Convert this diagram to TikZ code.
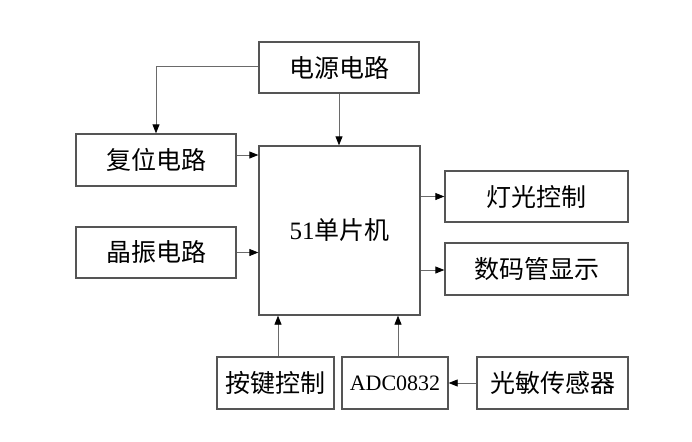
\documentclass[tikz,border=0pt]{standalone}
\usepackage{fontspec}
\setmainfont{Liberation Serif}
\newfontfamily\cjk{Noto Sans CJK SC}
\usetikzlibrary{arrows.meta}
\definecolor{boxline}{HTML}{555555}
\definecolor{conline}{HTML}{6A6A6A}
\begin{document}
\begin{tikzpicture}[x=1pt,y=-1pt,
  blk/.style={draw=boxline,line width=1.3pt,inner sep=0pt,anchor=center,
    font=\cjk\fontsize{25}{29}\selectfont},
  con/.style={draw=conline,line width=0.8pt,-{Triangle[length=9pt,width=7pt,color=black]}}]
\useasboundingbox (0,0) rectangle (692,441);
\node[blk,minimum width=160pt,minimum height=51pt] (power) at (339,67.5) {电源电路};
\node[blk,minimum width=160pt,minimum height=52pt] (reset) at (156,160) {复位电路};
\node[blk,minimum width=160pt,minimum height=51pt] (xtal) at (156,252.5) {晶振电路};
\node[blk,minimum width=161pt,minimum height=169pt] (mcu) at (339.5,230.5) {{\rmfamily\fontsize{25}{29}\selectfont 51}单片机};
\node[blk,minimum width=183pt,minimum height=51pt] (light) at (536.5,196.5) {灯光控制};
\node[blk,minimum width=183pt,minimum height=52pt] (disp) at (536.5,269) {数码管显示};
\node[blk,minimum width=117pt,minimum height=52pt] (keys) at (275.5,383) {按键控制};
\node[blk,minimum width=106pt,minimum height=52pt,font=\rmfamily\fontsize{22}{26}\selectfont] (adc) at (395,383) {ADC0832};
\node[blk,minimum width=151pt,minimum height=52pt] (sens) at (552.5,383) {光敏传感器};
\coordinate (pw) at ([yshift=1pt]power.west);
\draw[con] (pw) -| (reset.north);
\draw[con] (power.south) -- (power.south |- mcu.north);
\draw[con] ([yshift=5pt]reset.east) -- ([yshift=5pt]reset.east -| mcu.west);
\draw[con] (xtal.east) -- (xtal.east -| mcu.west);
\draw[con] (light.west -| mcu.east) -- (light.west);
\draw[con] ([yshift=-1pt]disp.west -| mcu.east) -- ([yshift=-1pt]disp.west);
\draw[con] ([xshift=2.5pt]keys.north) -- ([xshift=2.5pt]keys.north |- mcu.south);
\draw[con] ([xshift=3pt]adc.north) -- ([xshift=3pt]adc.north |- mcu.south);
\draw[con] (sens.west) -- (adc.east);
\end{tikzpicture}
\end{document}
